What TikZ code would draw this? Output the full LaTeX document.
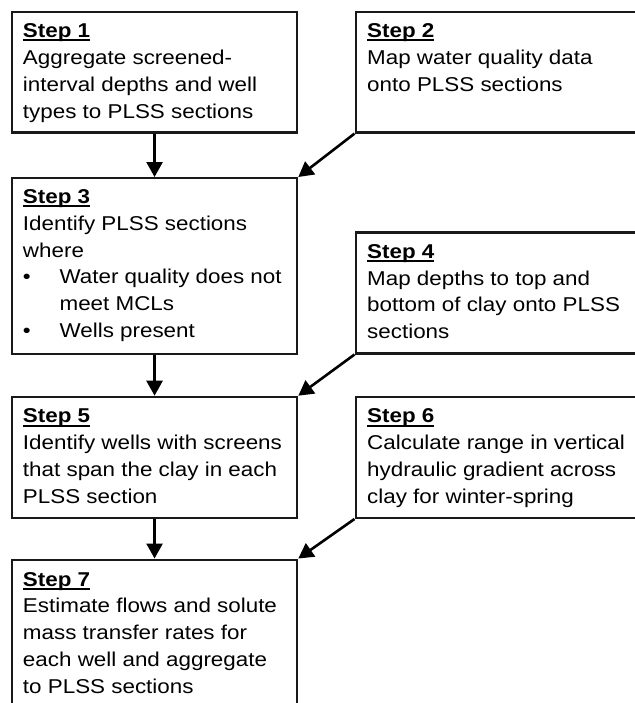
\documentclass[tikz,border=0pt]{standalone}
\usepackage{fontspec}
\usepackage{graphicx}
\setmainfont{Liberation Sans}
\usetikzlibrary{arrows.meta}
\newcommand\sthead[1]{\leavevmode\sbox0{\bfseries #1}\rlap{\rule[-3.8bp]{\wd0}{2bp}}\usebox0}
\newcommand\boxtext[1]{\scalebox{1.12}[1]{\begin{minipage}[t]{250bp}\fontsize{20bp}{26.8bp}\selectfont\raggedright #1\end{minipage}}}
\newcommand\bul{\makebox[32.7bp][l]{\textbullet}}
\tikzset{
  stepbox/.style={draw=black!90, line width=2.3bp, rectangle, inner sep=0pt, anchor=north west},
  lbox/.style={stepbox, minimum width=285.2bp},
  rbox/.style={stepbox, minimum width=290.5bp},
  steptext/.style={inner sep=0pt, anchor=base west, text=black},
  arr/.style={line width=2.6bp, draw=black, -{Triangle[width=16bp,length=15bp]}}
}
\begin{document}
\begin{tikzpicture}[x=1bp, y=-1bp]
\path[use as bounding box, clip] (0,0) rectangle (635,703);
% boxes
\node[lbox, minimum height=120.6bp] (b1) at (10.8,10.7) {};
\node[rbox, minimum height=120.6bp] (b2) at (354.5,10.7) {};
\node[lbox, minimum height=175.8bp] (b3) at (10.8,177) {};
\node[rbox, minimum height=121bp] (b4) at (354.5,231.2) {};
\node[lbox, minimum height=121bp] (b5) at (10.8,395.7) {};
\node[rbox, minimum height=121bp] (b6) at (354.5,395.7) {};
\node[lbox, minimum height=170bp] (b7) at (10.8,558.5) {};
% texts
\node[steptext] (t1) at ([shift={(12,27)}]b1.north west) {\boxtext{\sthead{Step 1}\\Aggregate screened-\\interval depths and well\\types to PLSS sections}};
\node[steptext] (t2) at ([shift={(12.5,27)}]b2.north west) {\boxtext{\sthead{Step 2}\\Map water quality data\\onto PLSS sections}};
\node[steptext] (t3) at ([shift={(12,26.5)}]b3.north west) {\boxtext{\sthead{Step 3}\\Identify PLSS sections\\where\\\bul Water quality does not\\\hspace*{32.7bp}meet MCLs\\\bul Wells present}};
\node[steptext] (t4) at ([shift={(12.5,27)}]b4.north west) {\boxtext{\sthead{Step 4}\\Map depths to top and\\bottom of clay onto PLSS\\sections}};
\node[steptext] (t5) at ([shift={(12,27)}]b5.north west) {\boxtext{\sthead{Step 5}\\Identify wells with screens\\that span the clay in each\\PLSS section}};
\node[steptext] (t6) at ([shift={(12.5,27)}]b6.north west) {\boxtext{\sthead{Step 6}\\Calculate range in vertical\\hydraulic gradient across\\clay for winter-spring}};
\node[steptext] (t7) at ([shift={(12,27.5)}]b7.north west) {\boxtext{\sthead{Step 7}\\Estimate flows and solute\\mass transfer rates for\\each well and aggregate\\to PLSS sections}};
% arrows
\draw[arr] (b1.south) -- (b3.north);
\draw[arr] (b2.south west) -- (b3.north east);
\draw[arr] (b3.south) -- (b5.north);
\draw[arr] (b4.south west) -- (b5.north east);
\draw[arr] (b5.south) -- (b7.north);
\draw[arr] (b6.south west) -- (b7.north east);
\end{tikzpicture}
\end{document}
